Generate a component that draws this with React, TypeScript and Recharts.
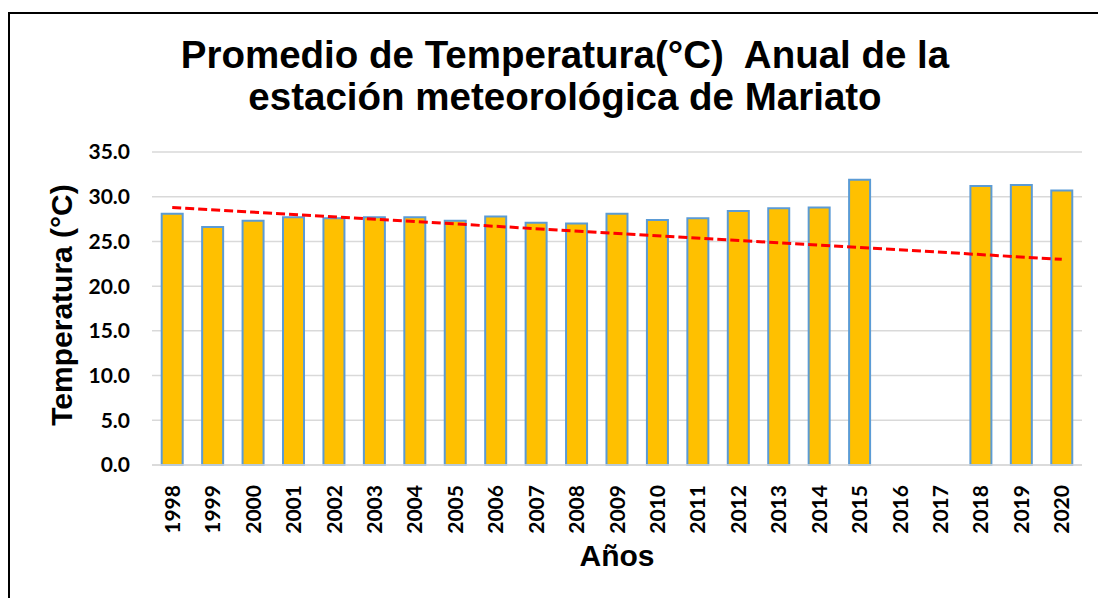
import { ComposedChart, Bar, Line, XAxis, YAxis, CartesianGrid } from "recharts";

const years = [
  "1998", "1999", "2000", "2001", "2002", "2003", "2004", "2005", "2006", "2007", "2008",
  "2009", "2010", "2011", "2012", "2013", "2014", "2015", "2016", "2017", "2018", "2019", "2020",
];

const temps: (number | null)[] = [
  28.1, 26.6, 27.3, 27.7, 27.6, 27.7, 27.7, 27.3, 27.8, 27.1, 27.0,
  28.1, 27.4, 27.6, 28.4, 28.7, 28.8, 31.9, null, null, 31.2, 31.3, 30.7,
];

// linear trend line, only its two end values
const trendStart = 28.8;
const trendEnd = 23.0;

const yTicks = [0, 5, 10, 15, 20, 25, 30, 35];

const data = years.map((year, i) => ({
  year,
  temp: temps[i],
  trend: i === 0 ? trendStart : i === years.length - 1 ? trendEnd : null,
}));

const tickFont = { fontFamily: "Lato", fontWeight: 700, fontSize: 21, fill: "#000" };

const YearTick = ({ x, y, payload }: { x?: number; y?: number; payload?: { value: string } }) => (
  <text
    x={x}
    y={(y ?? 0) + 12}
    transform={`rotate(-90, ${x}, ${(y ?? 0) + 12})`}
    textAnchor="end"
    dy="0.36em"
    {...tickFont}
  >
    {payload?.value}
  </text>
);

export default function App() {
  return (
    <div style={{ position: "relative", width: 1098, height: 598, background: "#fff" }}>
      <style>{"body{margin:0;overflow:hidden}"}</style>
      <ComposedChart
        width={1098}
        height={598}
        data={data}
        margin={{ top: 152, right: 16, left: 0, bottom: 0 }}
        barCategoryGap="24%"
      >
        <CartesianGrid vertical={false} stroke="#d9d9d9" strokeWidth={1.5} />
        <XAxis
          dataKey="year"
          height={133}
          interval={0}
          tick={<YearTick />}
          tickLine={false}
          axisLine={{ stroke: "#d9d9d9", strokeWidth: 1.5 }}
        />
        <YAxis
          width={152}
          domain={[0, 35]}
          ticks={yTicks}
          tickFormatter={(v: number) => v.toFixed(1)}
          tick={tickFont}
          tickSize={0}
          tickMargin={22}
          axisLine={false}
          tickLine={false}
        />
        <Bar dataKey="temp" fill="#ffc000" stroke="#5b9bd5" strokeWidth={2} isAnimationActive={false} />
        <Line
          dataKey="trend"
          stroke="#ff0000"
          strokeWidth={3}
          strokeDasharray="9 4"
          dot={false}
          connectNulls
          isAnimationActive={false}
        />
      </ComposedChart>
      <svg
        width={1098}
        height={598}
        style={{ position: "absolute", left: 0, top: 0, pointerEvents: "none" }}
      >
        <path d="M9 598 V13 H1098" fill="none" stroke="#000" strokeWidth={2} />
        <g fontFamily="Liberation Sans" fontWeight={700} fill="#000" textAnchor="middle">
          <text x={565} y={68} fontSize={38.5} style={{ whiteSpace: "pre" }}>
            {"Promedio de Temperatura(°C)  Anual de la"}
          </text>
          <text x={565} y={110} fontSize={38.5}>
            estación meteorológica de Mariato
          </text>
          <text x={617} y={566} fontSize={30}>
            Años
          </text>
          <text x={72} y={305} fontSize={30} transform="rotate(-90, 72, 305)">
            Temperatura (°C)
          </text>
        </g>
      </svg>
    </div>
  );
}
